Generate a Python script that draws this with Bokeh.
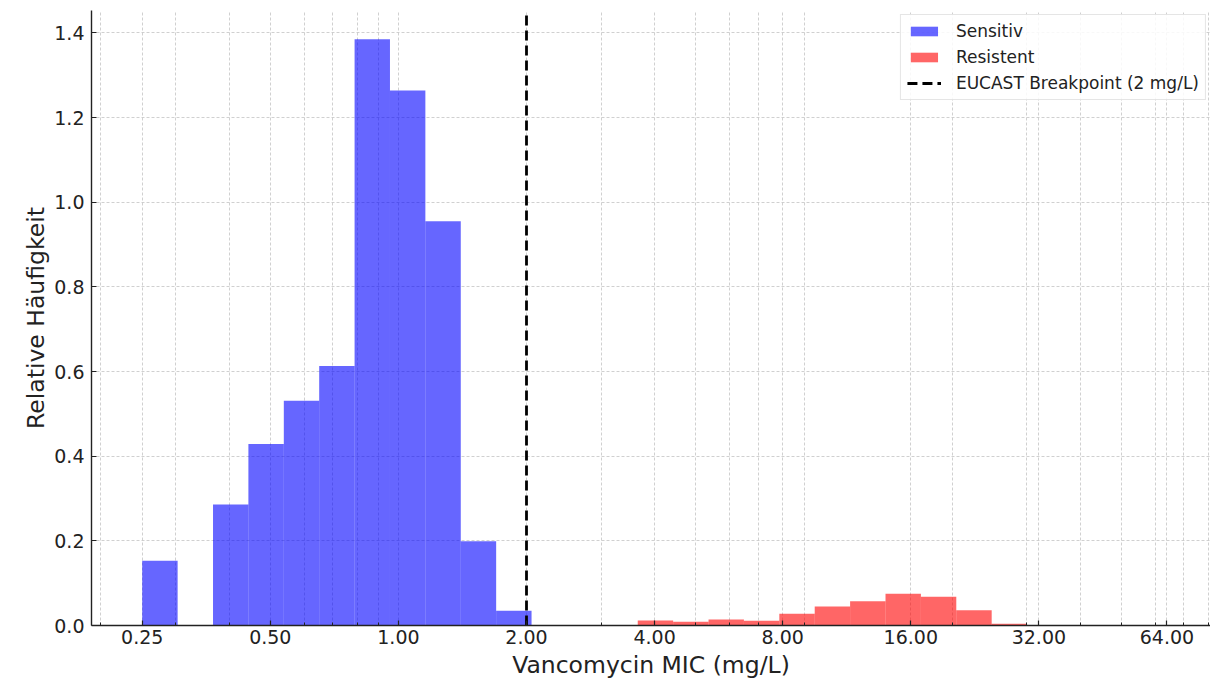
from bokeh.plotting import figure
from bokeh.models import FixedTicker, NumeralTickFormatter, Range1d, ColumnDataSource
from bokeh.embed import file_html
from bokeh.resources import INLINE

# Log-spaced bin edges (mg/L)
EDGES = [0.25, 0.3028, 0.3667, 0.4441, 0.5379, 0.6514, 0.7889, 0.9554, 1.1571,
         1.4014, 1.6972, 2.0555, 2.4894, 3.0150, 3.6514, 4.4222, 5.3558, 6.4864,
         7.8557, 9.5140, 11.522, 13.955, 16.901, 20.468, 24.789, 30.022]

# Relative frequency (density) per bin
SENS_BINS = list(range(0, 11))
SENS = [0.153, 0.0, 0.286, 0.429, 0.531, 0.613, 1.385, 1.264, 0.955, 0.199, 0.035]
RES_BINS = list(range(14, 25))
RES = [0.012, 0.009, 0.014, 0.011, 0.028, 0.045, 0.057, 0.075, 0.068, 0.036, 0.004]

BREAKPOINT = 2.0
X_MAJOR = [0.25, 0.5, 1, 2, 4, 8, 16, 32, 64]
X_MINOR = [0.2, 0.3, 0.4, 0.6, 0.7, 0.8, 0.9, 3, 5, 6, 7, 9, 20, 30, 40, 50, 60, 70, 80]
Y_TICKS = [0.0, 0.2, 0.4, 0.6, 0.8, 1.0, 1.2, 1.4]
X_LIM = (0.19, 81)
Y_LIM = (0.0, 1.453)

FONT = "DejaVu Sans"
TXT = "#222222"


def bins_source(idx, vals):
    left, right, top = [], [], []
    for i, v in zip(idx, vals):
        if v > 0:
            left.append(EDGES[i])
            right.append(EDGES[i + 1])
            top.append(v)
    return ColumnDataSource(dict(left=left, right=right, top=top, bottom=[0] * len(top)))


p = figure(width=1210, height=681, x_axis_type="log",
           x_range=Range1d(*X_LIM), y_range=Range1d(*Y_LIM),
           output_backend="svg", toolbar_location=None,
           min_border_left=91, min_border_right=0, min_border_top=10, min_border_bottom=0)

p.quad(left="left", right="right", top="top", bottom="bottom", source=bins_source(SENS_BINS, SENS),
       fill_color="blue", fill_alpha=0.6, line_color=None, legend_label="Sensitiv")
p.quad(left="left", right="right", top="top", bottom="bottom", source=bins_source(RES_BINS, RES),
       fill_color="red", fill_alpha=0.6, line_color=None, legend_label="Resistent")
p.line(x=[BREAKPOINT, BREAKPOINT], y=[Y_LIM[0], Y_LIM[1]], line_color="black", line_width=2.8,
       line_dash="10 5", legend_label="EUCAST Breakpoint (2 mg/L)")

xt = FixedTicker(ticks=X_MAJOR, minor_ticks=X_MINOR)
p.xaxis.ticker = xt
p.xgrid.ticker = xt
p.xaxis.formatter = NumeralTickFormatter(format="0.00")
yt = FixedTicker(ticks=Y_TICKS)
p.yaxis.ticker = yt
p.ygrid.ticker = yt
p.yaxis.formatter = NumeralTickFormatter(format="0.0")

for ax in (p.xaxis, p.yaxis):
    ax.axis_line_color = TXT
    ax.axis_line_width = 1.4
    ax.major_tick_line_color = TXT
    ax.major_tick_line_width = 1.2
    ax.major_tick_in = 5
    ax.major_tick_out = 0
    ax.minor_tick_line_color = TXT
    ax.minor_tick_in = 3
    ax.minor_tick_out = 0
    ax.major_label_text_font = FONT
    ax.major_label_text_font_size = "19px"
    ax.major_label_text_color = TXT
    ax.axis_label_text_font = FONT
    ax.axis_label_text_font_size = "23.5px"
    ax.axis_label_text_font_style = "normal"
    ax.axis_label_text_color = TXT
p.yaxis.minor_tick_line_color = None
p.xaxis.major_label_standoff = 4
p.yaxis.major_label_standoff = 7
p.xaxis.axis_label = "Vancomycin MIC (mg/L)"
p.yaxis.axis_label = "Relative Häufigkeit"
p.xaxis.axis_label_standoff = 4
p.yaxis.axis_label_standoff = 1

for g in (p.xgrid, p.ygrid):
    g.grid_line_color = "#c4c4c4"
    g.grid_line_dash = "3 2"
    g.grid_line_width = 0.8
p.xgrid.minor_grid_line_color = "#c4c4c4"
p.xgrid.minor_grid_line_dash = "3 2"
p.xgrid.minor_grid_line_width = 0.8

p.outline_line_color = None

lg = p.legend[0]
lg.location = "top_right"
lg.margin = 4
lg.padding = 6
lg.spacing = 6
lg.glyph_width = 34
lg.glyph_height = 12
lg.label_standoff = 15
lg.label_height = 20
lg.label_text_font = FONT
lg.label_text_font_size = "17px"
lg.label_text_color = TXT
lg.border_line_color = "#cccccc"
lg.border_line_width = 1
lg.background_fill_alpha = 0.85

open("out.html", "w").write(file_html(p, INLINE))
